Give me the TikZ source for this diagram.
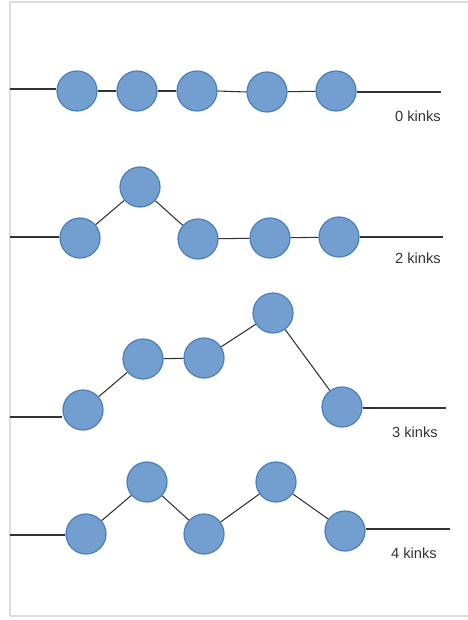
\documentclass[tikz,border=0pt]{standalone}
\usepackage{fontspec}
\setmainfont{Liberation Sans}
\definecolor{beadfill}{HTML}{729FCF}
\definecolor{beadline}{HTML}{4A7EBB}
\definecolor{chain}{HTML}{333333}
\definecolor{frame}{HTML}{DDDDDD}
\definecolor{labeltext}{HTML}{333333}
\begin{document}
\begin{tikzpicture}[x=0.75pt,y=-0.75pt,
  bead/.style={circle,draw=beadline,fill=beadfill,line width=0.9pt,minimum size=30pt,inner sep=0pt},
  link/.style={draw=chain,line width=0.8pt},
  kinklabel/.style={anchor=east,font=\fontsize{11}{13}\selectfont,text=labeltext,inner sep=0pt}]
\useasboundingbox (0,0) rectangle (467,620);
\draw[frame,line width=1.5pt] (10,616) -- (10,2) -- (470,2);
\draw[frame,line width=1.5pt] (10,616) -- (470,616);

% row 0 kinks
\node[bead] (a1) at (77,91) {};
\node[bead] (a2) at (137,91) {};
\node[bead] (a3) at (197,91) {};
\node[bead] (a4) at (267,92) {};
\node[bead] (a5) at (336,91) {};
\coordinate (a0) at (10,89);
\coordinate (a6) at (441,92);
\path[link] (a0) -- (a0 -| a1.west);
\path[link] (a1) -- (a2);
\path[link] (a2) -- (a3);
\path[link] (a3.east) -- (a4.west);
\path[link] (a4) -- (a5);
\path[link] (a6 -| a5.east) -- (a6);
\node[kinklabel] (la) at (441,116) {0 kinks};

% row 2 kinks
\node[bead] (b1) at (80,238) {};
\node[bead] (b2) at (140,187) {};
\node[bead] (b3) at (198,239) {};
\node[bead] (b4) at (270,238) {};
\node[bead] (b5) at (339,237) {};
\coordinate (b0) at (10,237);
\coordinate (b6) at (443,237);
\path[link] (b0) -- (b0 -| b1.west);
\path[link] (b1) -- (b2);
\path[link] (b2) -- (b3);
\path[link] (b3) -- (b4);
\path[link] (b4) -- (b5);
\path[link] (b6 -| b5.east) -- (b6);
\node[kinklabel] (lb) at (441,258) {2 kinks};

% row 3 kinks
\node[bead] (c1) at (83,410) {};
\node[bead] (c2) at (143,359) {};
\node[bead] (c3) at (204,358) {};
\node[bead] (c4) at (273,313) {};
\node[bead] (c5) at (342,407) {};
\coordinate (c0) at (10,417);
\coordinate (c6) at (446,408);
\path[link] (c0) -- (c0 -| c1.west);
\path[link] (c1) -- (c2);
\path[link] (c2) -- (c3);
\path[link] (c3) -- (c4);
\path[link] (c4) -- (c5);
\path[link] (c6 -| c5.east) -- (c6);
\node[kinklabel] (lc) at (438,432) {3 kinks};

% row 4 kinks
\node[bead] (d1) at (86,534) {};
\node[bead] (d2) at (147,482) {};
\node[bead] (d3) at (204,534) {};
\node[bead] (d4) at (276,482) {};
\node[bead] (d5) at (345,531) {};
\coordinate (d0) at (10,535);
\coordinate (d6) at (450,529);
\path[link] (d0) -- (d0 -| d1.west);
\path[link] (d1) -- (d2);
\path[link] (d2) -- (d3);
\path[link] (d3) -- (d4);
\path[link] (d4) -- (d5);
\path[link] (d6 -| d5.east) -- (d6);
\node[kinklabel] (ld) at (437,553) {4 kinks};
\end{tikzpicture}
\end{document}
